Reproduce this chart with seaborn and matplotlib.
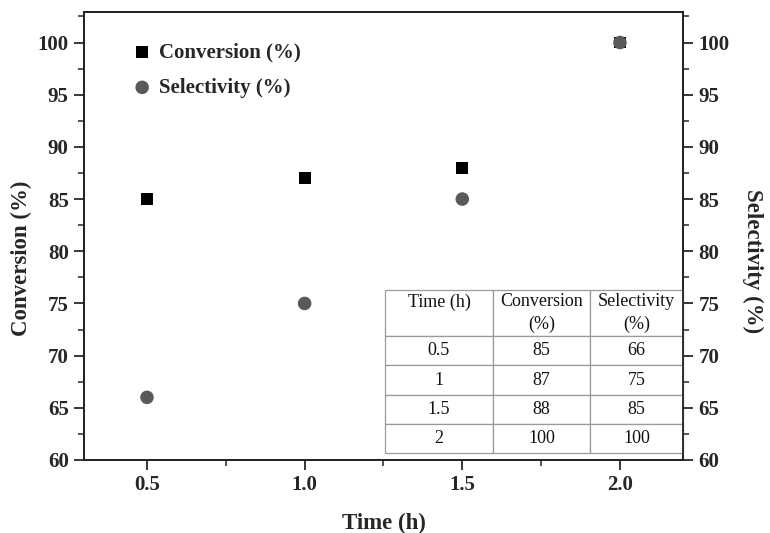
import matplotlib
matplotlib.use("Agg")
import matplotlib.pyplot as plt
import seaborn as sns
import pandas as pd
from matplotlib.ticker import MultipleLocator

time_h = [0.5, 1.0, 1.5, 2.0]
conversion = [85, 87, 88, 100]
selectivity = [66, 75, 85, 100]
table_header = ["Time (h)\n ", "Conversion\n(%)", "Selectivity\n(%)"]
table_rows = [["0.5", "85", "66"], ["1", "87", "75"], ["1.5", "88", "85"], ["2", "100", "100"]]

sns.set_theme(style="ticks")
plt.rcParams['font.family'] = ['Liberation Serif', 'DejaVu Serif']
plt.rcParams['font.weight'] = 'bold'

df = pd.DataFrame({"time": time_h, "conv": conversion, "sel": selectivity})

fig = plt.figure(figsize=(7.7, 5.33), dpi=100)
ax = fig.add_axes([0.109, 0.137, 0.778, 0.840])
ax2 = ax.twinx()

sns.scatterplot(data=df, x="time", y="conv", ax=ax, marker="s", s=72, color="black",
                edgecolor="none", label="Conversion (%)", legend=False, zorder=3)
sns.scatterplot(data=df, x="time", y="sel", ax=ax2, marker="o", s=95, color="#5a5a5a",
                edgecolor="none", label="Selectivity (%)", legend=False, zorder=3)

for a in (ax, ax2):
    a.set_xlim(0.3, 2.2)
    a.set_ylim(60, 102.9)
    a.yaxis.set_major_locator(MultipleLocator(5))
    a.yaxis.set_minor_locator(MultipleLocator(2.5))
    for s in a.spines.values():
        s.set_linewidth(1.3)
        s.set_color("#222222")
ax.xaxis.set_major_locator(MultipleLocator(0.5))
ax.xaxis.set_minor_locator(MultipleLocator(0.25))
ax.xaxis.set_major_formatter(matplotlib.ticker.FormatStrFormatter('%.1f'))

ax.tick_params(axis='both', which='major', direction='out', length=7, width=1.3, labelsize=15, pad=4)
ax.tick_params(axis='both', which='minor', direction='out', length=4, width=1.1)
ax2.tick_params(axis='y', which='major', direction='out', length=7, width=1.3, labelsize=15, pad=4)
ax2.tick_params(axis='y', which='minor', direction='out', length=4, width=1.1)
for lbl in ax.get_xticklabels() + ax.get_yticklabels() + ax2.get_yticklabels():
    lbl.set_fontweight('bold')

ax.set_xlabel("Time (h)", fontsize=16.5, fontweight='bold', labelpad=13)
ax.set_ylabel("Conversion (%)", fontsize=16.5, fontweight='bold')
ax2.set_ylabel("Selectivity (%)", fontsize=16.5, fontweight='bold', rotation=270)
ax.yaxis.set_label_coords(-0.087, 0.451)
ax2.yaxis.set_label_coords(1.134, 0.445)

h1, l1 = ax.get_legend_handles_labels()
h2, l2 = ax2.get_legend_handles_labels()
leg = ax2.legend(h1 + h2, l1 + l2, loc='upper left', bbox_to_anchor=(0.045, 0.975), frameon=False,
                 prop={'weight': 'bold', 'size': 15}, handletextpad=0.2, labelspacing=0.75,
                 handlelength=1.2)

tbl = ax2.table(cellText=table_rows, colLabels=table_header, cellLoc='center',
                bbox=[0.5025, 0.0156, 0.4975, 0.3634], colWidths=[108, 97, 93])
tbl.auto_set_font_size(False)
hdr_h = 46 / 163
row_h = (1 - hdr_h) / len(table_rows)
for (r, c), cell in tbl.get_celld().items():
    cell.set_edgecolor("#9a9a9a")
    cell.set_linewidth(0.9)
    cell.set_facecolor("white")
    cell.get_text().set_fontsize(13)
    cell.get_text().set_fontweight('normal')
    cell.get_text().set_color("#111111")
    cell.set_height(hdr_h * 0.3634 if r == 0 else row_h * 0.3634)
    if r == 0:
        cell.get_text().set_linespacing(1.4)
tbl.set_zorder(2)

fig.savefig("out.png", dpi=100)
